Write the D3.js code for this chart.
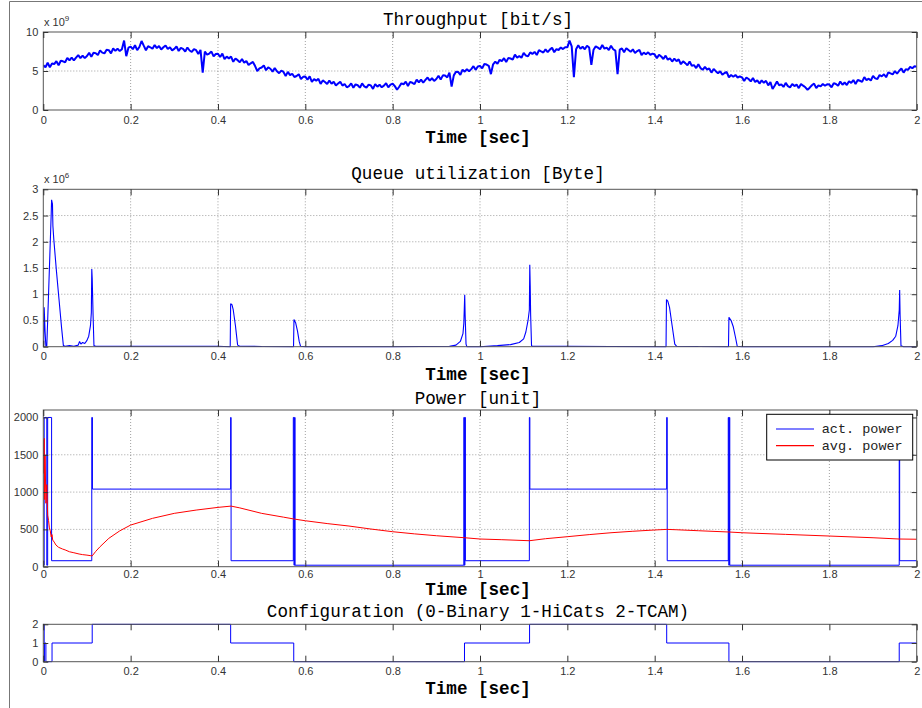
<!DOCTYPE html>
<html>
<head>
<meta charset="utf-8">
<script src="https://cdn.jsdelivr.net/npm/d3@7"></script>
<style>
  body { margin: 0; background: #fff; }
  svg { display: block; }
  .tick text { font-family: "Liberation Sans", Arial, sans-serif; font-size: 11px; fill: #333; }
  .tick line { stroke: #333; }
  .title { font-family: "Liberation Mono", "Courier New", monospace; font-size: 17.6px; fill: #000; }
  .xlabel { font-family: "Liberation Mono", "Courier New", monospace; font-size: 17.6px; font-weight: bold; fill: #000; }
  .expo { font-family: "Liberation Sans", Arial, sans-serif; font-size: 11px; fill: #333; }
  .legend text { font-family: "Liberation Mono", "Courier New", monospace; font-size: 13.5px; fill: #222; }
</style>
</head>
<body>
<div id="chart"></div>
<script>

// tick labels
const timeTicks = [0, 0.2, 0.4, 0.6, 0.8, 1, 1.2, 1.4, 1.6, 1.8, 2];
const throughputTicks = [0, 5, 10];
const queueTicks = [0, 0.5, 1, 1.5, 2, 2.5, 3];
const powerTicks = [0, 500, 1000, 1500, 2000];
const configTicks = [0, 1, 2];

// throughput [x 10^9 bit/s], one sample every 5 ms from 0 to 2 s
const throughputStep = 0.005;
const throughputValues = [
  5.75, 5.48, 6.05, 5.48, 5.96, 5.89, 6.26, 5.74, 6.32, 6.24, 6.12, 6.69, 6.36, 6.73, 6.35, 6.72, 7.04, 6.66, 6.98, 6.65,
  6.92, 7.33, 6.83, 7.34, 7.29, 7.05, 7.65, 7.36, 7.26, 7.72, 7.67, 7.26, 7.89, 7.58, 7.86, 7.55, 7.79, 8.90, 6.90, 7.99,
  8.13, 7.79, 8.30, 7.67, 8.08, 8.85, 8.25, 7.66, 8.18, 8.04, 7.85, 8.34, 7.93, 8.21, 7.75, 8.04, 8.28, 7.82, 8.05, 7.64,
  7.83, 8.14, 7.56, 7.97, 7.84, 7.50, 8.01, 7.63, 7.44, 7.81, 7.67, 7.17, 7.71, 4.80, 7.50, 7.10, 7.24, 7.49, 6.88, 7.18,
  7.22, 6.80, 7.23, 6.51, 6.84, 6.62, 6.85, 6.18, 6.61, 6.39, 6.12, 6.54, 6.07, 6.29, 5.76, 5.99, 6.16, 5.63, 5.00, 5.33,
  5.45, 5.72, 5.10, 5.47, 5.29, 4.92, 5.39, 4.96, 4.73, 5.06, 4.88, 4.36, 4.89, 4.47, 4.65, 4.23, 4.36, 4.59, 3.97, 4.25,
  4.28, 3.88, 4.32, 3.62, 3.96, 3.76, 4.00, 3.35, 3.79, 3.59, 3.33, 3.79, 3.36, 3.62, 3.14, 3.40, 3.61, 3.13, 3.34, 2.91,
  3.07, 3.41, 2.85, 3.28, 3.17, 2.86, 3.40, 3.04, 2.87, 3.26, 3.15, 2.71, 3.32, 2.99, 3.25, 2.91, 3.12, 3.43, 2.90, 3.26,
  3.37, 3.06, 2.60, 2.98, 3.41, 3.30, 3.64, 3.07, 3.61, 3.49, 3.33, 3.89, 3.54, 3.90, 3.50, 3.86, 4.16, 3.77, 4.07, 3.73,
  3.98, 4.40, 3.92, 4.44, 4.41, 4.18, 4.80, 3.00, 4.44, 4.91, 4.88, 4.51, 5.18, 4.91, 5.24, 4.97, 5.24, 5.62, 5.15, 5.57,
  5.65, 5.33, 5.90, 5.83, 5.66, 4.60, 5.86, 6.19, 5.92, 6.44, 6.27, 6.64, 6.16, 6.68, 6.60, 6.47, 7.09, 6.71, 6.93, 6.70,
  7.32, 6.98, 6.88, 7.39, 7.19, 7.45, 7.05, 7.66, 7.51, 7.37, 7.77, 7.41, 7.74, 7.98, 7.41, 7.80, 7.69, 8.02, 7.81, 8.04,
  8.03, 8.90, 8.15, 4.20, 7.78, 8.29, 7.85, 8.11, 7.78, 8.24, 8.00, 5.80, 7.73, 8.16, 8.00, 7.79, 8.33, 7.87, 8.00, 7.69,
  8.23, 7.79, 7.61, 4.60, 7.74, 7.90, 7.41, 7.93, 7.69, 7.46, 7.77, 7.32, 7.56, 7.71, 7.05, 7.35, 7.14, 7.39, 7.08, 7.23,
  7.12, 6.65, 7.08, 6.86, 6.54, 6.97, 6.45, 6.63, 6.21, 6.59, 6.27, 6.49, 5.87, 6.24, 6.01, 5.74, 6.21, 5.68, 5.75, 5.38,
  5.85, 5.37, 5.15, 5.52, 5.19, 5.32, 4.79, 5.26, 4.98, 4.71, 4.98, 4.51, 4.74, 4.87, 4.20, 4.48, 4.26, 4.49, 4.17, 4.30,
  4.18, 3.73, 4.17, 3.97, 3.66, 4.11, 3.60, 3.80, 3.39, 3.79, 3.48, 3.74, 3.16, 3.57, 2.70, 3.15, 3.66, 3.18, 3.29, 2.96,
  3.47, 3.06, 2.90, 3.33, 3.07, 3.26, 2.80, 3.34, 3.12, 2.91, 2.60, 2.86, 3.17, 3.39, 2.80, 3.16, 3.02, 3.33, 3.10, 3.31,
  3.27, 2.91, 3.44, 3.33, 3.11, 3.65, 3.24, 3.52, 3.21, 3.69, 3.48, 3.84, 3.34, 3.85, 3.75, 3.61, 4.21, 3.82, 4.02, 3.78,
  4.38, 4.05, 3.97, 4.49, 4.31, 4.58, 4.20, 4.82, 4.69, 4.56, 4.98, 4.66, 5.03, 5.31, 4.79, 5.22, 5.14, 5.52, 5.35, 5.62,
  5.55
];
const throughputTime = throughputValues.map((v, i) => i * throughputStep);

// queue utilization [x 10^6 Byte]
const queueTime = [
  0, 0.001, 0.002, 0.004, 0.006, 0.008, 0.010, 0.012, 0.014, 0.016, 0.018, 0.019, 0.021, 0.022, 0.024, 0.030, 0.036, 0.042, 0.046,
  0.050, 0.060, 0.070, 0.080, 0.083, 0.086, 0.090, 0.095, 0.100, 0.104, 0.108, 0.110, 0.111, 0.112, 0.114, 0.116, 0.120,
  0.200, 0.300, 0.400, 0.428, 0.429, 0.432, 0.435, 0.440, 0.445, 0.450, 0.500,
  0.573, 0.574, 0.578, 0.582, 0.586, 0.589, 0.600, 0.800,
  0.930, 0.945, 0.955, 0.961, 0.963, 0.965, 0.966, 0.968, 0.970, 1.000,
  1.040, 1.070, 1.090, 1.100, 1.105, 1.110, 1.113, 1.114, 1.115, 1.116, 1.118, 1.120, 1.200, 1.300,
  1.426, 1.427, 1.430, 1.434, 1.440, 1.446, 1.450, 1.500,
  1.569, 1.570, 1.575, 1.580, 1.585, 1.589, 1.600, 1.900,
  1.920, 1.935, 1.945, 1.952, 1.957, 1.960, 1.961, 1.962, 1.964, 1.970, 2.000
];
const queueValue = [
  0, 0.05, 0.75, 0.30, 0.00, 0.02, 0.50, 1.00, 1.50, 2.00, 2.50, 2.80, 2.72, 2.30, 2.05, 1.45, 0.90, 0.35, 0.02,
  0.01, 0.02, 0.01, 0.03, 0.10, 0.05, 0.08, 0.06, 0.12, 0.20, 0.40, 0.65, 1.48, 1.30, 0.60, 0.02, 0.01,
  0.01, 0.01, 0.01, 0.00, 0.82, 0.80, 0.70, 0.40, 0.03, 0.01, 0.005,
  0.00, 0.52, 0.45, 0.30, 0.10, 0.01, 0.00, 0.00,
  0.01, 0.03, 0.10, 0.25, 0.45, 0.99, 0.60, 0.05, 0.00, 0.00,
  0.02, 0.04, 0.08, 0.15, 0.28, 0.50, 0.70, 1.56, 1.15, 0.60, 0.02, 0.01, 0.01, 0.005,
  0.00, 0.90, 0.87, 0.75, 0.40, 0.05, 0.01, 0.005,
  0.00, 0.56, 0.50, 0.38, 0.18, 0.01, 0.00, 0.00,
  0.02, 0.06, 0.12, 0.20, 0.40, 0.70, 1.08, 0.60, 0.02, 0.00, 0.00
];

// power [unit]: actual power (held until next sample) and running average
const actPowerTime = [0, 0.002, 0.008, 0.010, 0.019, 0.111, 0.1125, 0.429, 0.430, 0.5725, 0.574, 0.5755, 0.5765,
  0.963, 0.9642, 0.9655, 0.9665, 1.113, 1.1142, 1.4275, 1.4287, 1.5685, 1.5697, 1.571, 1.572, 1.960, 1.961, 2.0];
const actPowerValue = [20, 2000, 20, 2000, 80, 2000, 1040, 2000, 80, 2000, 20, 2000, 20,
  2000, 20, 2000, 80, 2000, 1040, 2000, 80, 2000, 20, 2000, 20, 2000, 80, 80];

const avgPowerTime = [0, 0.001, 0.002, 0.003, 0.004, 0.006, 0.008, 0.010, 0.012, 0.014, 0.016, 0.018, 0.020, 0.0215,
  0.025, 0.029, 0.035, 0.044, 0.050, 0.060, 0.070, 0.082, 0.090, 0.100, 0.109, 0.112, 0.120, 0.130, 0.150, 0.175,
  0.200, 0.250, 0.300, 0.350, 0.400, 0.430, 0.450, 0.500, 0.550, 0.575, 0.600, 0.650, 0.700, 0.750, 0.800, 0.850,
  0.900, 0.965, 1.000, 1.050, 1.113, 1.150, 1.200, 1.250, 1.300, 1.350, 1.400, 1.428, 1.450, 1.500, 1.570, 1.600,
  1.700, 1.800, 1.900, 1.960, 2.000];
const avgPowerValue = [1700, 1250, 1720, 900, 1500, 850, 1100, 690, 620, 520, 480, 400, 430, 357,
  330, 290, 260, 237, 225, 200, 187, 170, 162, 155, 147, 145, 205, 268, 380, 480,
  558, 648, 715, 759, 795, 812, 788, 715, 664, 638, 616, 578, 545, 505, 469, 440,
  415, 388, 371, 362, 348, 375, 402, 430, 455, 475, 492, 500, 495, 482, 465, 455,
  433, 411, 388, 371, 368];

// configuration (0-Binary 1-HiCats 2-TCAM), held until next change
const configTime = [0, 0.002, 0.003, 0.006, 0.020, 0.112, 0.429, 0.5735, 0.9645, 1.1135, 1.4275, 1.570, 1.960, 2.0];
const configValue = [2, 0, 1, 0, 1, 2, 1, 0, 1, 2, 1, 0, 1, 1];

const width = 922, height = 708;
const x = d3.scaleLinear().domain([0, 2]).range([43.3, 916.7]);
const titleX = 478;

const svg = d3.select("#chart").append("svg")
  .attr("width", width)
  .attr("height", height);

// page frame of the scanned figure
svg.append("line").attr("x1", 9.5).attr("x2", 9.5).attr("y1", 1.5).attr("y2", height)
  .attr("stroke", "#777").attr("stroke-width", 1);
svg.append("line").attr("x1", 9.5).attr("x2", width).attr("y1", 1.5).attr("y2", 1.5)
  .attr("stroke", "#777").attr("stroke-width", 1);

const defs = svg.append("defs");

const panels = [
  { title: "Throughput [bit/s]", top: 32, bottom: 110, domain: [0, 10], ticks: throughputTicks, grid: true,
    expo: "9", titleY: 25, labelY: 143, pad: 6,
    series: [{ t: throughputTime, v: throughputValues, color: "#0000ff", width: 2, curve: d3.curveLinear }] },
  { title: "Queue utilization [Byte]", top: 189.3, bottom: 346.7, domain: [0, 3], ticks: queueTicks, grid: true,
    expo: "6", titleY: 179, labelY: 380, pad: 6,
    series: [{ t: queueTime, v: queueValue, color: "#0000ff", width: 1.1, curve: d3.curveLinear }] },
  { title: "Power [unit]", top: 410, bottom: 566.7, domain: [0, 2100], ticks: powerTicks, grid: true,
    expo: null, titleY: 404, labelY: 595, pad: 4,
    series: [
      { t: actPowerTime, v: actPowerValue, color: "#0000ff", width: 1, curve: d3.curveStepAfter },
      { t: avgPowerTime, v: avgPowerValue, color: "#ff0000", width: 1, curve: d3.curveLinear }
    ] },
  { title: "Configuration (0-Binary 1-HiCats 2-TCAM)", top: 624.3, bottom: 661.7, domain: [0, 2], ticks: configTicks, grid: false,
    expo: null, titleY: 617, labelY: 694, pad: 6,
    series: [{ t: configTime, v: configValue, color: "#0000ff", width: 1, curve: d3.curveStepAfter }] }
];

panels.forEach((p, i) => {

  const y = d3.scaleLinear().domain(p.domain).range([p.bottom, p.top]);
  const g = svg.append("g");

  defs.append("clipPath").attr("id", "clip" + i)
    .append("rect")
    .attr("x", x(0)).attr("y", p.top - 1)
    .attr("width", x(2) - x(0)).attr("height", p.bottom - p.top + 2);

  // dotted grid
  if (p.grid) {
    g.append("g").selectAll("line")
      .data(timeTicks.slice(1, -1))
      .enter().append("line")
      .attr("x1", d => x(d)).attr("x2", d => x(d))
      .attr("y1", p.top).attr("y2", p.bottom)
      .attr("stroke", "#888").attr("stroke-width", 0.8).attr("stroke-dasharray", "1,2");
    g.append("g").selectAll("line")
      .data(p.ticks.slice(1, -1))
      .enter().append("line")
      .attr("x1", x(0)).attr("x2", x(2))
      .attr("y1", d => y(d)).attr("y2", d => y(d))
      .attr("stroke", "#888").attr("stroke-width", 0.8).attr("stroke-dasharray", "1,2");
  }

  // data lines
  p.series.forEach(s => {
    const line = d3.line()
      .x((d, k) => x(s.t[k]))
      .y(d => y(d))
      .curve(s.curve);
    g.append("path")
      .datum(s.v)
      .attr("clip-path", "url(#clip" + i + ")")
      .attr("fill", "none")
      .attr("stroke", s.color)
      .attr("stroke-width", s.width)
      .attr("stroke-linejoin", "bevel")
      .attr("d", line);
  });

  // box
  g.append("rect")
    .attr("x", x(0)).attr("y", p.top)
    .attr("width", x(2) - x(0)).attr("height", p.bottom - p.top)
    .attr("fill", "none").attr("stroke", "#555").attr("stroke-width", 1);

  // inward ticks on all four sides, labels bottom and left
  const fmt = d => String(d);
  g.append("g").attr("transform", `translate(0,${p.bottom})`)
    .call(d3.axisBottom(x).tickValues(timeTicks).tickSize(-6).tickPadding(p.pad).tickFormat(fmt));
  g.append("g").attr("transform", `translate(0,${p.top})`)
    .call(d3.axisTop(x).tickValues(timeTicks).tickSize(-6).tickFormat(""));
  g.append("g").attr("transform", `translate(${x(0)},0)`)
    .call(d3.axisLeft(y).tickValues(p.ticks).tickSize(-5).tickPadding(5).tickFormat(fmt));
  g.append("g").attr("transform", `translate(${x(2)},0)`)
    .call(d3.axisRight(y).tickValues(p.ticks).tickSize(-5).tickFormat(""));
  g.selectAll(".domain").remove();

  if (p.expo) {
    const e = g.append("text").attr("class", "expo").attr("x", 44).attr("y", p.top - 6);
    e.append("tspan").text("x 10");
    e.append("tspan").attr("dy", -5).attr("font-size", "8px").text(p.expo);
  }

  g.append("text").attr("class", "title")
    .attr("x", titleX).attr("y", p.titleY)
    .attr("text-anchor", "middle").text(p.title);

  g.append("text").attr("class", "xlabel")
    .attr("x", titleX).attr("y", p.labelY)
    .attr("text-anchor", "middle").text("Time [sec]");
});

// legend of the power panel
const legendItems = ["act. power", "avg. power"];
const legendColors = ["#0000ff", "#ff0000"];
const legend = svg.append("g").attr("class", "legend");
legend.append("rect")
  .attr("x", 766.7).attr("y", 414.3).attr("width", 146).attr("height", 45.7)
  .attr("fill", "#fff").attr("stroke", "#000").attr("stroke-width", 1);
legendItems.forEach((name, k) => {
  const ly = 429 + k * 16.7;
  legend.append("line")
    .attr("x1", 776).attr("x2", 814).attr("y1", ly).attr("y2", ly)
    .attr("stroke", legendColors[k]).attr("stroke-width", 1.2);
  legend.append("text").attr("x", 821.7).attr("y", ly + 4).text(name);
});

</script>
</body>
</html>
